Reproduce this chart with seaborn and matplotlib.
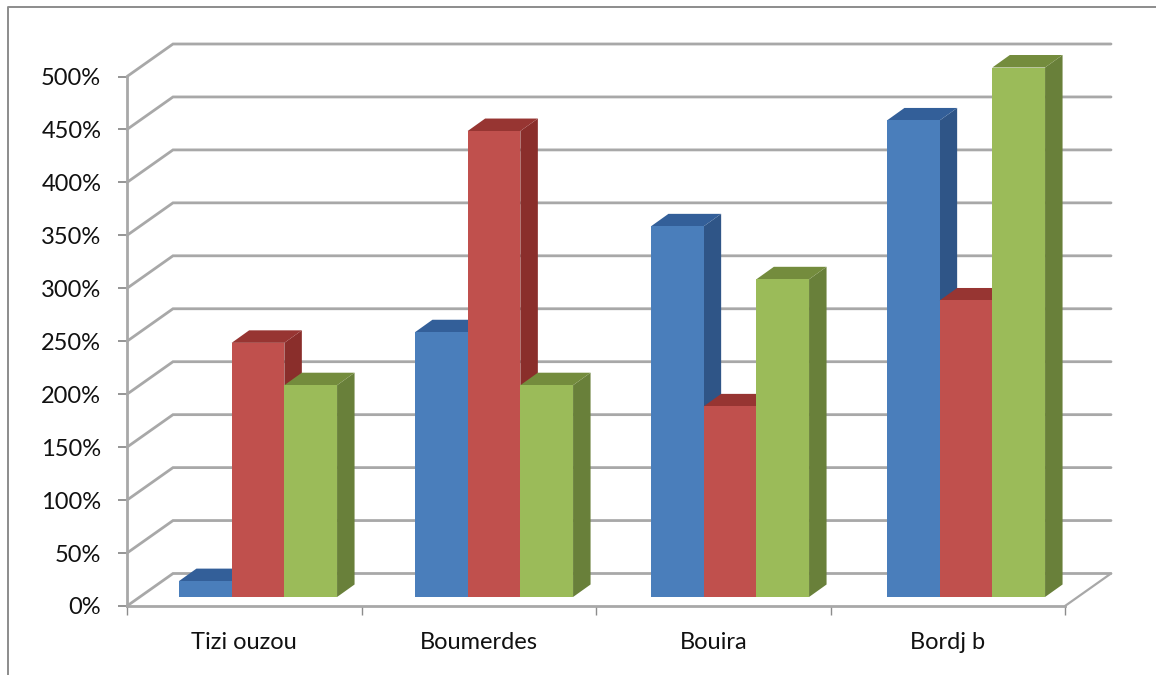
import matplotlib
matplotlib.use("Agg")
import matplotlib.pyplot as plt
from matplotlib.lines import Line2D
from matplotlib.patches import Polygon
from matplotlib.ticker import PercentFormatter
import pandas as pd
import seaborn as sns

# Wilaya names and the three unnamed series, in percent
regions = ["Tizi ouzou", "Boumerdes", "Bouira", "Bordj b"]
series_a = [15, 250, 350, 450]
series_b = [240, 440, 180, 280]
series_c = [200, 200, 300, 500]
y_ticks = list(range(0, 501, 50))

front_colors = ["#4A7EBB", "#C0504D", "#9BBB59"]
side_colors = ["#2F5587", "#8A2E2B", "#69803A"]
top_colors = ["#335F99", "#973532", "#748C3D"]
GRID = "#A8A8A8"
FRAME = "#8C8C8C"

W, H = 1156, 675
sns.set_theme(style="white")
plt.rcParams["font.family"] = ["Lato", "DejaVu Sans"]

table = pd.DataFrame({
    "region": regions * 3,
    "series": ["a"] * 4 + ["b"] * 4 + ["c"] * 4,
    "value": series_a + series_b + series_c,
})

fig = plt.figure(figsize=(W / 100, H / 100), dpi=100, facecolor="white")


def axes_from_pixels(left, right, top, bottom):
    return fig.add_axes([left / W, 1 - bottom / H, (right - left) / W, (bottom - top) / H])


# Walls and axes of the pseudo-3D frame
frame = axes_from_pixels(127, 1065, 76.5, 606)
frame.set_xlim(-0.5, 3.5)
frame.set_ylim(0, 500)
frame.set_xticks([-0.5, 0.5, 1.5, 2.5, 3.5])
frame.set_xticklabels([])
frame.set_yticks(y_ticks)
frame.yaxis.set_major_formatter(PercentFormatter(decimals=0))
frame.tick_params(axis="y", length=6.5, width=1.3, color=FRAME, pad=12,
                  labelsize=17, labelcolor="#111111", left=True)
frame.tick_params(axis="x", length=6.5, width=1.0, color=FRAME, bottom=True)
for name, spine in frame.spines.items():
    spine.set_visible(name in ("left", "bottom"))
    spine.set_color(GRID)
    spine.set_linewidth(2.0)

# Category names sit centred under each tick interval
for i, region in enumerate(regions):
    frame.annotate(region, (i, 0), xytext=(0, -26.5), textcoords="offset points",
                   xycoords="data", ha="center", va="center",
                   fontsize=17, color="#111111")

# Gridlines run back from the axis, then across the rear wall
wall_dx = 46 / (938 / 4)
wall_dy = 32.5 / (529.5 / 500)
for v in y_ticks:
    frame.plot([-0.5, -0.5 + wall_dx, 3.5 + wall_dx], [v, v + wall_dy, v + wall_dy],
               color=GRID, lw=2.0, clip_on=False, solid_joinstyle="miter", zorder=1)
frame.plot([3.5, 3.5 + wall_dx], [0, wall_dy], color=GRID, lw=1.6, clip_on=False, zorder=1)

# Bars live on a plane slightly behind the front edge of the floor
plane = axes_from_pixels(140, 1084, 67.5, 597)
plane.patch.set_alpha(0)
sns.barplot(data=table, x="region", y="value", hue="series", order=regions,
            palette=front_colors, saturation=1, width=0.67, gap=0,
            legend=False, ax=plane)
plane.set_xlim(-0.5, 3.5)
plane.set_ylim(0, 500)
plane.axis("off")

# Each bar gets a side and a top face, drawn series by series so later bars overlap
depth_x = 17.5 / (944 / 4)
depth_y = 12.5 / (529.5 / 500)
for s, container in enumerate(plane.containers):
    for bar in container:
        x0, x1 = bar.get_x(), bar.get_x() + bar.get_width()
        h = bar.get_height()
        z = 3 + s
        bar.set_zorder(z + 0.2)
        bar.set_linewidth(0)
        plane.add_patch(Polygon([(x1, 0), (x1 + depth_x, depth_y), (x1 + depth_x, h + depth_y), (x1, h)],
                                closed=True, fc=side_colors[s], ec="none", zorder=z, clip_on=False))
        plane.add_patch(Polygon([(x0, h), (x0 + depth_x, h + depth_y), (x1 + depth_x, h + depth_y), (x1, h)],
                                closed=True, fc=top_colors[s], ec="none", zorder=z + 0.1, clip_on=False))

# Outer chart border: only the top and left edges remain in view
fig.add_artist(Line2D([7.5 / W, 7.5 / W, 1], [0, 1 - 7 / H, 1 - 7 / H], color=FRAME, lw=1.4))

fig.savefig("out.png", dpi=100)
